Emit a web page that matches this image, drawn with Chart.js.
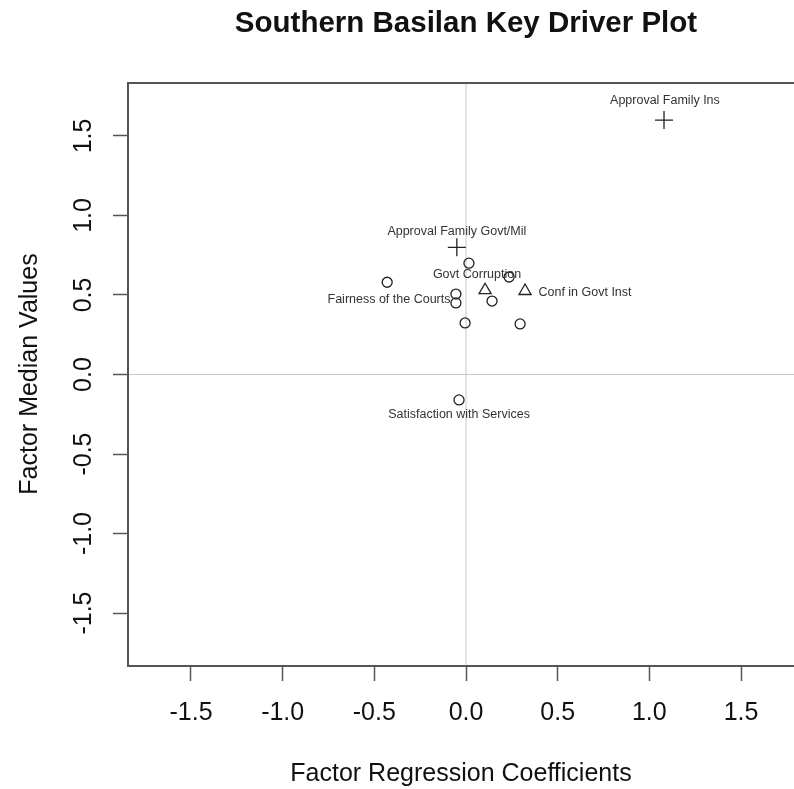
<!DOCTYPE html>
<html>
<head>
<meta charset="utf-8">
<script src="https://cdn.jsdelivr.net/npm/chart.js@4"></script>
<style>
  html, body { margin: 0; padding: 0; background: #fff; }
  canvas { display: block; }
</style>
</head>
<body>
<canvas id="driverPlot" width="794" height="789"></canvas>
<script>
// point values
const circleX = [0.016, 0.235, -0.43, -0.055, -0.055, 0.142, -0.005, 0.295, -0.038];
const circleY = [0.70, 0.613, 0.58, 0.506, 0.45, 0.462, 0.324, 0.318, -0.16];
const triangleX = [0.104, 0.322];
const triangleY = [0.53, 0.525];
const crossX = [-0.05, 1.08];
const crossY = [0.80, 1.60];

// text labels (centre of the text, in data units)
const labelText = [
  "Approval Family Ins",
  "Approval Family Govt/Mil",
  "Govt Corruption",
  "Fairness of the Courts",
  "Conf in Govt Inst",
  "Satisfaction with Services"
];
const labelX = [1.085, -0.05, 0.06, -0.42, 0.649, -0.038];
const labelY = [1.72, 0.90, 0.626, 0.47, 0.513, -0.25];

const xTicks = [-1.5, -1.0, -0.5, 0.0, 0.5, 1.0, 1.5];
const yTicks = [-1.5, -1.0, -0.5, 0.0, 0.5, 1.0, 1.5];

const FONT = "'Liberation Sans', Arial, Helvetica, sans-serif";
const INK = "#222";

function toPoints(xs, ys) {
  return xs.map((x, i) => ({ x: x, y: ys[i] }));
}

const decor = {
  id: "decor",
  beforeDatasetsDraw(chart) {
    const { ctx, chartArea: a, scales } = chart;
    const x0 = scales.x.getPixelForValue(0);
    const y0 = scales.y.getPixelForValue(0);
    ctx.save();
    // reference lines through zero
    ctx.strokeStyle = "#c8c8c8";
    ctx.lineWidth = 1;
    ctx.beginPath();
    ctx.moveTo(x0, a.top);
    ctx.lineTo(x0, a.bottom);
    ctx.moveTo(a.left, y0);
    ctx.lineTo(a.right, y0);
    ctx.stroke();
    // plot box (right side falls outside the picture)
    ctx.strokeStyle = "#555";
    ctx.lineWidth = 2;
    ctx.beginPath();
    ctx.moveTo(a.right + 5, a.top);
    ctx.lineTo(a.left, a.top);
    ctx.lineTo(a.left, a.bottom);
    ctx.lineTo(a.right + 5, a.bottom);
    ctx.stroke();
    ctx.restore();
  },
  afterDraw(chart) {
    const { ctx, chartArea: a, scales } = chart;
    ctx.save();
    ctx.fillStyle = "#111";
    ctx.textAlign = "center";
    ctx.textBaseline = "middle";

    ctx.font = "bold 29.5px " + FONT;
    ctx.fillText("Southern Basilan Key Driver Plot", 466, 24);

    ctx.font = "25px " + FONT;
    ctx.fillText("Factor Regression Coefficients", 461, 774);

    ctx.save();
    ctx.translate(30, 374);
    ctx.rotate(-Math.PI / 2);
    ctx.fillText("Factor Median Values", 0, 0);
    ctx.restore();

    // y tick labels, rotated like R draws them
    yTicks.forEach(v => {
      const py = scales.y.getPixelForValue(v);
      ctx.save();
      ctx.translate(84, py);
      ctx.rotate(-Math.PI / 2);
      ctx.fillText(v.toFixed(1), 0, 0);
      ctx.restore();
    });

    // point labels
    ctx.font = "12.5px " + FONT;
    ctx.fillStyle = "#333";
    labelText.forEach((t, i) => {
      ctx.fillText(t, scales.x.getPixelForValue(labelX[i]), scales.y.getPixelForValue(labelY[i]));
    });
    ctx.restore();
  }
};

new Chart(document.getElementById("driverPlot"), {
  type: "scatter",
  data: {
    datasets: [
      {
        label: "circles",
        data: toPoints(circleX, circleY),
        pointStyle: "circle",
        pointRadius: 5,
        borderColor: INK,
        backgroundColor: "rgba(0,0,0,0)",
        borderWidth: 1.3
      },
      {
        label: "triangles",
        data: toPoints(triangleX, triangleY),
        pointStyle: "triangle",
        pointRadius: 7,
        borderColor: INK,
        backgroundColor: "rgba(0,0,0,0)",
        borderWidth: 1.3
      },
      {
        label: "crosses",
        data: toPoints(crossX, crossY),
        pointStyle: "cross",
        pointRadius: 9,
        borderColor: INK,
        backgroundColor: "rgba(0,0,0,0)",
        borderWidth: 1.3
      }
    ]
  },
  options: {
    responsive: false,
    animation: false,
    devicePixelRatio: 1,
    layout: { autoPadding: false, padding: { top: 83, right: 0, left: 0, bottom: 0 } },
    plugins: {
      legend: { display: false },
      title: { display: false },
      tooltip: { enabled: false }
    },
    scales: {
      x: {
        type: "linear",
        min: -1.8436,
        max: 1.789,
        afterBuildTicks: s => { s.ticks = xTicks.map(v => ({ value: v })); },
        afterFit: s => { s.height = 123; },
        ticks: {
          padding: 17,
          color: "#111",
          font: { family: FONT, size: 25 },
          callback: v => Number(v).toFixed(1)
        },
        grid: {
          drawOnChartArea: false,
          drawTicks: true,
          tickLength: 15,
          tickColor: "#555",
          tickWidth: 1.5
        },
        border: { display: false }
      },
      y: {
        type: "linear",
        min: -1.833,
        max: 1.833,
        afterBuildTicks: s => { s.ticks = yTicks.map(v => ({ value: v })); },
        afterFit: s => { s.width = 128; },
        ticks: { display: false },
        grid: {
          drawOnChartArea: false,
          drawTicks: true,
          tickLength: 15,
          tickColor: "#555",
          tickWidth: 1.5
        },
        border: { display: false }
      }
    }
  },
  plugins: [decor]
});
</script>
</body>
</html>
